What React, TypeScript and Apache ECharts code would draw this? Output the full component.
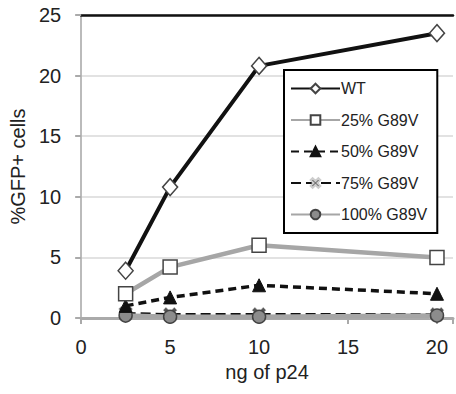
import React, { useEffect, useRef } from "react";
import * as echarts from "echarts";

const xValues = [2.5, 5, 10, 20];
const seriesNames = ["WT", "25% G89V", "50% G89V", "75% G89V", "100% G89V"];
const wt = [3.9, 10.8, 20.8, 23.5];
const g25 = [2.0, 4.2, 6.0, 5.0];
const g50 = [1.0, 1.7, 2.7, 2.0];
const g75 = [0.4, 0.3, 0.3, 0.3];
const g100 = [0.2, 0.1, 0.1, 0.2];
const xTicks = [0, 5, 10, 15, 20];
const yTicks = [0, 5, 10, 15, 20, 25];

const FONT = "Liberation Sans, Arial, sans-serif";
const CROSS = "path://M2,0L5,3L8,0L10,2L7,5L10,8L8,10L5,7L2,10L0,8L3,5L0,2Z";

function pts(v: number[]) {
  return xValues.map((x, i) => [x, v[i]]);
}

export default function App() {
  const ref = useRef<HTMLDivElement>(null);
  useEffect(() => {
    const chart = echarts.init(ref.current!, null, { renderer: "svg" });
    chart.setOption({
      animation: false,
      backgroundColor: "#fff",
      textStyle: { fontFamily: FONT },
      grid: { left: 76, right: 0, top: 15, bottom: 76, containLabel: false },
      legend: {
        orient: "vertical",
        left: 284,
        top: 70,
        width: 159,
        data: seriesNames,
        borderColor: "#000",
        borderWidth: 2,
        padding: [10, 10, 10, 6],
        itemWidth: 49,
        itemHeight: 12,
        itemGap: 14.5,
        textStyle: { fontSize: 16, color: "#222", fontFamily: FONT, lineHeight: 17, padding: [0, 0, 0, -4] },
        backgroundColor: "#fff",
      },
      xAxis: [
        {
          type: "value",
          min: 0,
          max: 20.9,
          interval: 5,
          name: "ng of p24",
          nameLocation: "middle",
          nameGap: 42,
          nameTextStyle: { fontSize: 20, color: "#222", fontFamily: FONT },
          axisLine: { show: true, onZero: false, lineStyle: { color: "#aaa", width: 3 } },
          axisTick: { show: true, length: 6, lineStyle: { color: "#aaa", width: 2 } },
          axisLabel: {
            fontSize: 20,
            color: "#222",
            margin: 19,
            fontFamily: FONT,
            formatter: (v: number) => (xTicks.includes(v) ? String(v) : ""),
          },
          splitLine: { show: false },
        },
        {
          type: "value",
          position: "top",
          min: 0,
          max: 20.9,
          axisLine: { show: true, onZero: false, lineStyle: { color: "#111", width: 2.5 } },
          axisTick: { show: false },
          axisLabel: { show: false },
          splitLine: { show: false },
        },
      ],
      yAxis: {
        type: "value",
        min: 0,
        max: 25,
        interval: 5,
        name: "%GFP+ cells",
        nameLocation: "middle",
        nameGap: 45,
        nameTextStyle: { fontSize: 20, color: "#222", fontFamily: FONT },
        axisLine: { show: true, onZero: false, lineStyle: { color: "#bbb", width: 2 } },
        axisTick: { show: true, length: 6, lineStyle: { color: "#aaa", width: 2 } },
        axisLabel: {
          fontSize: 20,
          color: "#222",
          margin: 20,
          fontFamily: FONT,
          formatter: (v: number) => (yTicks.includes(v) ? String(v) : ""),
        },
        splitLine: { show: true, lineStyle: { color: "#d9d9d9", width: 1.5 } },
      },
      series: [
        {
          name: "75% G89V",
          type: "line",
          data: pts(g75),
          z: 3,
          symbol: CROSS,
          symbolSize: 14,
          itemStyle: { color: "#555", borderColor: "#ccc", borderWidth: 0.5 },
          lineStyle: { color: "#111", width: 2.5, type: [10, 5] },
        },
        {
          name: "100% G89V",
          type: "line",
          data: pts(g100),
          z: 4,
          symbol: "circle",
          symbolSize: 13,
          itemStyle: { color: "#8c8c8c", borderColor: "#444", borderWidth: 1.5 },
          lineStyle: { color: "#a6a6a6", width: 4.5 },
        },
        {
          name: "50% G89V",
          type: "line",
          data: pts(g50),
          z: 5,
          symbol: "triangle",
          symbolSize: 13,
          itemStyle: { color: "#111", borderColor: "#111", borderWidth: 1 },
          lineStyle: { color: "#111", width: 3.5, type: [8, 5] },
        },
        {
          name: "25% G89V",
          type: "line",
          data: pts(g25),
          z: 6,
          symbol: "rect",
          symbolSize: 14,
          itemStyle: { color: "#fff", borderColor: "#444", borderWidth: 1.5 },
          lineStyle: { color: "#a6a6a6", width: 4.5 },
        },
        {
          name: "WT",
          type: "line",
          data: pts(wt),
          z: 7,
          symbol: "diamond",
          symbolSize: [15, 17],
          itemStyle: { color: "#fff", borderColor: "#444", borderWidth: 1.5 },
          lineStyle: { color: "#111", width: 4 },
        },
      ],
    });
    return () => chart.dispose();
  }, []);
  return <div ref={ref} style={{ width: 456, height: 394, position: "absolute", left: 0, top: 0 }} />;
}
